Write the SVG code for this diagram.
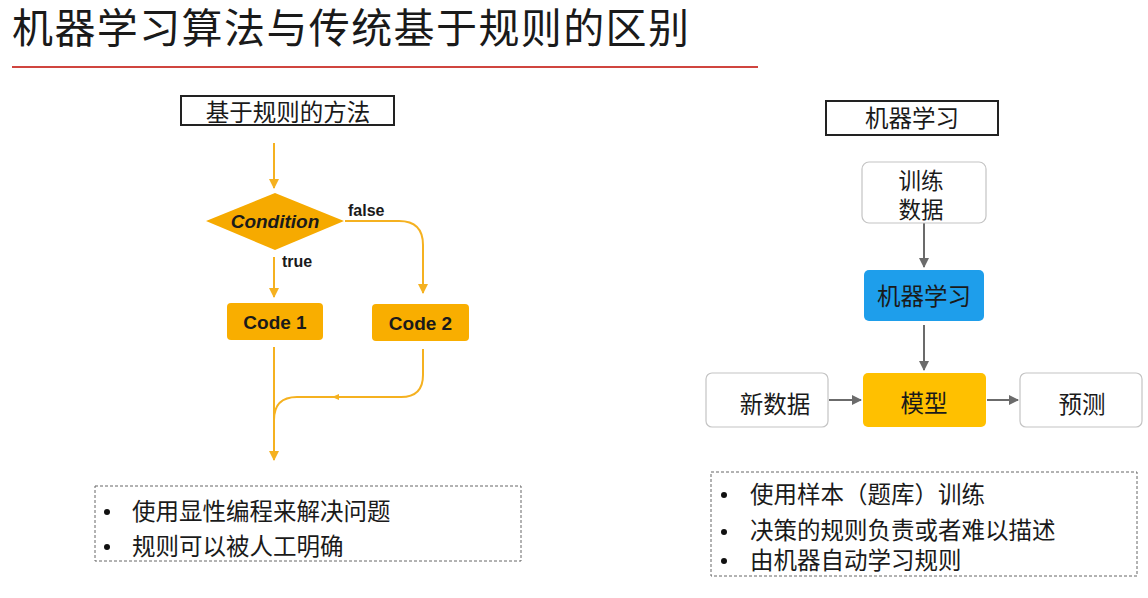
<svg xmlns="http://www.w3.org/2000/svg" width="1148" height="598" viewBox="0 0 1148 598">
<style>
.cjk{font-family:"Noto Sans CJK SC","Noto Sans",sans-serif;fill:#1a1a1a}
.lat{font-family:"Liberation Sans",Arial,sans-serif;font-weight:bold;fill:#1a1a1a}
.or{stroke:#F5B120;stroke-width:2;fill:none}
.gr{stroke:#6b6b6b;stroke-width:2;fill:none}
.hdr{fill:#fff;stroke:#222;stroke-width:2}
.wbox{fill:#fff;stroke:#c4c4c4;stroke-width:1.2}
.dash{fill:none;stroke:#666;stroke-width:1;stroke-dasharray:3 2}
</style>
<defs>
<marker id="ao" viewBox="0 0 10 10" refX="9" refY="5" markerWidth="5" markerHeight="5" orient="auto"><path d="M0,0 L10,5 L0,10 z" fill="#F5B120"/></marker>
<marker id="ag" viewBox="0 0 10 10" refX="9" refY="5" markerWidth="5" markerHeight="5" orient="auto"><path d="M0,0 L10,5 L0,10 z" fill="#6b6b6b"/></marker>
</defs>
<rect width="1148" height="598" fill="#fff"/>
<g id="title">
<text class="cjk" x="12" y="43" font-size="41" letter-spacing="1.4">机器学习算法与传统基于规则的区别</text>
<line x1="12" y1="67" x2="758" y2="67" stroke="#d0453f" stroke-width="2"/>
</g>
<g id="rule-header">
<rect class="hdr" x="181" y="96" width="213" height="29"/>
<text class="cjk" x="288" y="121" font-size="23.5" text-anchor="middle">基于规则的方法</text>
</g>
<g id="condition">
<polygon points="206,221 275,193 344,221 275,250" fill="#F6AA00"/>
<text class="lat" x="275" y="228" font-size="19" font-style="italic" text-anchor="middle">Condition</text>
</g>
<g id="code1">
<rect x="227" y="303" width="96" height="37" rx="4" fill="#F9AE00"/>
<text class="lat" x="275" y="329" font-size="19" text-anchor="middle">Code 1</text>
</g>
<g id="code2">
<rect x="372" y="304" width="97" height="37" rx="4" fill="#F9AE00"/>
<text class="lat" x="420.5" y="330" font-size="19" text-anchor="middle">Code 2</text>
</g>
<g id="connectors">
<line class="or" x1="274" y1="143" x2="274" y2="188" marker-end="url(#ao)"/>
<line class="or" x1="274" y1="257" x2="274" y2="297" marker-end="url(#ao)"/>
<path class="or" d="M345,221 H399 Q423,221 423,245 V293" marker-end="url(#ao)"/>
<line class="or" x1="274" y1="347" x2="274" y2="460" marker-end="url(#ao)"/>
<path class="or" d="M423,349 V375 Q423,397 401,397 H297 Q274,397 274,420"/>
<path d="M332,397 L339,394 L339,400 z" fill="#F5B120"/>
<text class="lat" x="348" y="216" font-size="16">false</text>
<text class="lat" x="282" y="267" font-size="16">true</text>
<line class="gr" x1="924" y1="223" x2="924" y2="267" marker-end="url(#ag)"/>
<line class="gr" x1="924" y1="325" x2="924" y2="370" marker-end="url(#ag)"/>
<line class="gr" x1="829" y1="400" x2="861" y2="400" marker-end="url(#ag)"/>
<line class="gr" x1="987" y1="400" x2="1018" y2="400" marker-end="url(#ag)"/>
</g>
<g id="rule-notes">
<rect class="dash" x="95" y="486" width="426" height="75"/>
<circle cx="107" cy="512" r="3" fill="#111"/>
<circle cx="107" cy="547" r="3" fill="#111"/>
<text class="cjk" x="132" y="520" font-size="23.5">使用显性编程来解决问题</text>
<text class="cjk" x="132" y="555" font-size="23.5">规则可以被人工明确</text>
</g>
<g id="ml-header">
<rect class="hdr" x="826" y="101" width="172" height="34"/>
<text class="cjk" x="912" y="127" font-size="23.5" text-anchor="middle">机器学习</text>
</g>
<g id="train-data">
<rect class="wbox" x="862" y="162" width="124" height="61" rx="7"/>
<text class="cjk" x="921" y="189" font-size="22.5" text-anchor="middle">训练</text>
<text class="cjk" x="921" y="218" font-size="22.5" text-anchor="middle">数据</text>
</g>
<g id="ml">
<rect x="864" y="270" width="120" height="51" rx="5" fill="#1E9EEB"/>
<text class="cjk" x="924" y="305" font-size="23.5" text-anchor="middle">机器学习</text>
</g>
<g id="model">
<rect x="863" y="373" width="123" height="54" rx="5" fill="#FFC000"/>
<text class="cjk" x="924" y="412" font-size="23.5" text-anchor="middle">模型</text>
</g>
<g id="new-data">
<rect class="wbox" x="706" y="373" width="122" height="54" rx="6"/>
<text class="cjk" x="775" y="413" font-size="23.5" text-anchor="middle">新数据</text>
</g>
<g id="predict">
<rect class="wbox" x="1020" y="373" width="122" height="54" rx="6"/>
<text class="cjk" x="1082" y="413" font-size="23.5" text-anchor="middle">预测</text>
</g>
<g id="ml-notes">
<rect class="dash" x="711" y="472" width="426" height="104"/>
<circle cx="724" cy="495" r="3" fill="#111"/>
<circle cx="724" cy="532" r="3" fill="#111"/>
<circle cx="724" cy="561" r="3" fill="#111"/>
<text class="cjk" x="750" y="503" font-size="23.5">使用样本（题库）训练</text>
<text class="cjk" x="750" y="539" font-size="23.5">决策的规则负责或者难以描述</text>
<text class="cjk" x="750" y="569" font-size="23.5">由机器自动学习规则</text>
</g>
</svg>
